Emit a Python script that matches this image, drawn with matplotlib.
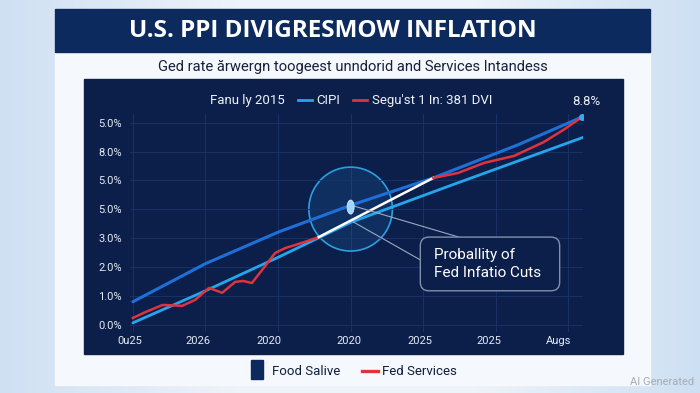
import numpy as np
import matplotlib
matplotlib.use("Agg")
import matplotlib.pyplot as plt
from matplotlib.patches import Rectangle, Ellipse, FancyBboxPatch
from matplotlib.colors import LinearSegmentedColormap

plt.rcParams['font.family'] = ['Roboto', 'DejaVu Sans']

# data
x_labels = ["0u25", "2026", "2020", "2020", "2025", "2025", "Augs"]
x_label_pos = [-0.04, 0.9, 1.88, 2.97, 3.95, 4.9, 5.87]
y_labels = ["0.0%", "1.0%", "2.0%", "3.0%", "5.0%", "5.0%", "8.0%", "5.0%"]

upper_x = [0, 1.0, 2.01, 3.01, 4.14, 5.3, 6.19]
upper_y = [0.80, 2.12, 3.22, 4.15, 5.09, 6.23, 7.2]

lower_x = [0, 1.0, 2.01, 3.01, 4.38, 6.21]
lower_y = [0.07, 1.18, 2.35, 3.56, 4.83, 6.5]

red1_x = [0, 0.18, 0.41, 0.68, 0.86, 1.05, 1.23, 1.41, 1.52, 1.64, 1.78, 1.96, 2.10, 2.33, 2.56]
red1_y = [0.24, 0.45, 0.69, 0.66, 0.87, 1.28, 1.11, 1.49, 1.52, 1.45, 1.90, 2.49, 2.66, 2.84, 3.04]

white_x = [2.56, 4.14]
white_y = [3.04, 5.09]

red2_x = [4.14, 4.48, 4.84, 5.25, 5.66, 5.93, 6.19]
red2_y = [5.09, 5.26, 5.61, 5.85, 6.33, 6.75, 7.2]

end_label = "8.8%"

NAVY = "#0b1f4a"
BAND = "#0c2a5e"
BLUE = "#1f6fd8"
LIGHT = "#25a5ec"
RED = "#e0323f"

fig = plt.figure(figsize=(7, 3.93), dpi=100)

# background
bg = fig.add_axes([0, 0, 1, 1])
bg.set_xlim(0, 1)
bg.set_ylim(0, 1)
bg.axis("off")
cmap = LinearSegmentedColormap.from_list("bg", ["#cfe0f3", "#edf3fa", "#eef4fa", "#cde0f3"])
grad = np.linspace(0, 1, 256).reshape(1, -1)
bg.imshow(grad, cmap=cmap, extent=[0, 1, 0, 1], aspect="auto")

bg.add_patch(Rectangle((0.0786, 0.0204), 0.85, 0.957, color="#f5f8fc"))
bg.add_patch(Rectangle((0.0786, 0.8677), 0.85, 0.1094, color=BAND))
bg.add_patch(Rectangle((0.12, 0.0992), 0.77, 0.6997, color=NAVY))

fig.text(0.476, 0.921, "U.S. PPI DIVIGRESMOW INFLATION", color="white",
         fontsize=17.5, fontweight="bold", ha="center", va="center", family="Open Sans")
fig.text(0.504, 0.829, "Ged rate ărwergn toogeest unndorid and Services Intandess",
         color="#16203a", fontsize=10.6, ha="center", va="center")

# top legend
fig.text(0.300, 0.745, "Fanu ly 2015", color="#eef2fa", fontsize=9.5, va="center")
fig.add_artist(plt.Line2D([0.426, 0.446], [0.745, 0.745], color=LIGHT, lw=2))
fig.text(0.452, 0.745, "CIPI", color="#eef2fa", fontsize=9.5, va="center")
fig.add_artist(plt.Line2D([0.504, 0.524], [0.745, 0.745], color=RED, lw=2))
fig.text(0.531, 0.745, "Segu'st 1 In: 381 DVI", color="#eef2fa", fontsize=9.5, va="center")
fig.text(0.837, 0.743, end_label, color="#eef2fa", fontsize=9.5, ha="center", va="center")

# bottom legend
fig.add_artist(Rectangle((0.359, 0.036), 0.016, 0.048, color=BAND))
fig.text(0.388, 0.055, "Food Salive", color="#0d1f40", fontsize=9.5, va="center")
fig.add_artist(plt.Line2D([0.517, 0.540], [0.055, 0.055], color=RED, lw=2.4))
fig.text(0.545, 0.055, "Fed Services", color="#0d1f40", fontsize=9.5, va="center")

fig.text(0.992, 0.028, "AI Generated", color="#a7adb5", fontsize=8, ha="right", va="center")

# main chart
ax = fig.add_axes([0.1857, 0.155, 0.647, 0.5547])
ax.set_facecolor("none")
ax.set_xlim(0, 6.2)
ax.set_ylim(-0.25, 7.3)
ax.set_xticks(x_label_pos)
ax.set_xticklabels(x_labels, color="#e6ecf6", fontsize=8)
ax.set_yticks(range(len(y_labels)))
ax.set_yticklabels(y_labels, color="#e6ecf6", fontsize=8)
ax.tick_params(length=0, pad=6)
ax.tick_params(axis="x", pad=3)
ax.grid(True, axis="y", color="#1b3468", lw=0.6)
for gx in range(7):
    ax.axvline(gx, color="#1b3468", lw=0.6, zorder=0)
for s in ax.spines.values():
    s.set_visible(False)

ax.plot(upper_x, upper_y, color=BLUE, lw=2.2, solid_capstyle="round")
ax.plot(lower_x, lower_y, color=LIGHT, lw=2.0, solid_capstyle="round")
ax.plot(red1_x, red1_y, color=RED, lw=1.8)
ax.plot(white_x, white_y, color="white", lw=1.8)
ax.plot(red2_x, red2_y, color=RED, lw=1.8)
ax.plot(upper_x[-1], upper_y[-1], "o", color="#3aa8f0", ms=4)

# highlight circle
ax.add_patch(Ellipse((3.0, 4.01), 84 / 73, 84 / 28.9, facecolor="#2a8fe0", alpha=0.15, lw=0))
ax.add_patch(Ellipse((3.0, 4.01), 84 / 73, 84 / 28.9, facecolor="none", edgecolor="#2c9fe0", lw=1.2))
ax.add_patch(Ellipse((3.0, 4.08), 7 / 73, 14 / 28.9, facecolor="#9fd6ff", edgecolor="#d8efff", lw=0.6, zorder=5))

ax.plot([3.04, 4.49], [4.12, 3.04], color="#9aa8c0", lw=0.8)
ax.plot([3.04, 3.96], [3.56, 2.25], color="#9aa8c0", lw=0.8)

box = FancyBboxPatch((3.96, 1.18), 1.92, 1.86, boxstyle="round,pad=0,rounding_size=0.12",
                     facecolor=NAVY, edgecolor="#7f8fae", lw=1, mutation_aspect=2.5, zorder=6)
ax.add_patch(box)
ax.text(4.15, 2.12, "Proballity of\nFed Infatio Cuts", color="white", fontsize=11,
        va="center", ha="left", linespacing=1.35, zorder=7)

fig.savefig("out.png", dpi=100)
